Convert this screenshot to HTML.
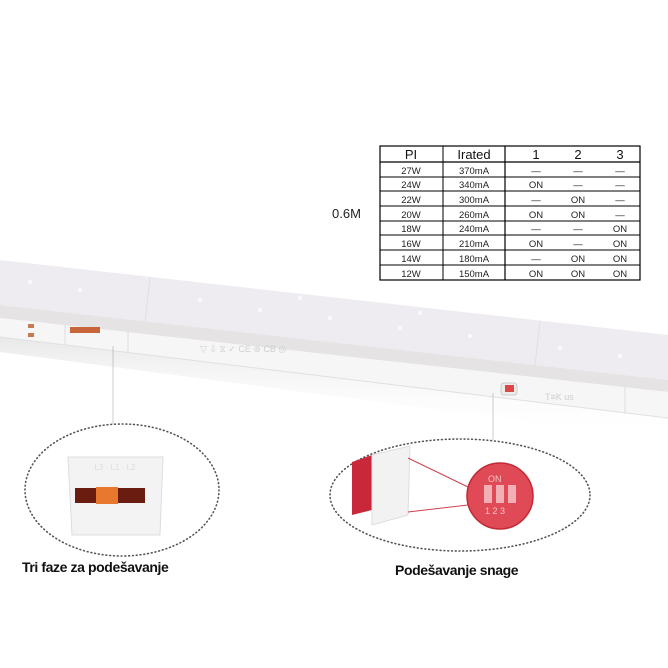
<!DOCTYPE html>
<html><head><meta charset="utf-8"><style>
body{margin:0;background:#fff;}
svg{display:block}
</style></head><body>
<svg width="668" height="668" viewBox="0 0 668 668" xmlns="http://www.w3.org/2000/svg" font-family="Liberation Sans, sans-serif">
<defs>
<linearGradient id="shadow" x1="0" y1="0" x2="0" y2="1"><stop offset="0" stop-color="#e8e8e8"/><stop offset="1" stop-color="#fff" stop-opacity="0"/></linearGradient>
</defs>
<polygon points="0,337 668,418 668,440 0,352" fill="url(#shadow)"/>
<polygon points="0,260 668,335 668,380 0,305" fill="#eeecf0"/>
<line x1="150" y1="277" x2="145" y2="323" stroke="#e0dee4"/>
<line x1="540" y1="321" x2="535" y2="366" stroke="#e0dee4"/>
<g fill="#fafafd">
<circle cx="30" cy="282" r="2"/><circle cx="80" cy="290" r="2"/><circle cx="200" cy="300" r="2"/><circle cx="260" cy="310" r="2"/><circle cx="330" cy="318" r="2"/><circle cx="400" cy="328" r="2"/><circle cx="470" cy="336" r="2"/><circle cx="560" cy="348" r="2"/><circle cx="620" cy="356" r="2"/><circle cx="300" cy="298" r="2"/><circle cx="420" cy="313" r="2"/>
</g>
<polygon points="0,305 668,380 668,392 0,318" fill="#e5e3e3"/>
<polygon points="0,318 668,392 668,418 0,337" fill="#f6f6f6"/>
<line x1="0" y1="337" x2="668" y2="418" stroke="#e0e0e0"/>
<line x1="65" y1="324" x2="65" y2="345" stroke="#ddd"/>
<line x1="128" y1="331" x2="128" y2="352" stroke="#ddd"/>
<line x1="625" y1="387" x2="625" y2="414" stroke="#ddd"/>
<rect x="70" y="327" width="30" height="6" fill="#c9653a"/>
<rect x="28" y="324" width="6" height="4" fill="#c87a50"/><rect x="28" y="333" width="6" height="4" fill="#c87a50"/>
<rect x="501" y="383" width="16" height="12" rx="3" fill="#ececec" stroke="#ccc"/>
<rect x="505" y="385" width="9" height="7" fill="#e04646"/>
<g fill="#cfcfcf" font-size="9"><text x="200" y="352">▽ ⇩ ⧖ ✓ CE ⊚ CB ◎</text><text x="545" y="400">T≡K us</text></g>
<line x1="113" y1="346" x2="113" y2="424" stroke="#aaa" stroke-width="0.6"/>
<line x1="493" y1="393" x2="493" y2="440" stroke="#aaa" stroke-width="0.6"/>
<text x="332" y="218" font-size="13" fill="#222">0.6M</text>
<g stroke="#000" fill="none">
<rect x="380" y="146" width="260" height="134" stroke-width="1.2"/>
<line x1="443" y1="146" x2="443" y2="280"/><line x1="505" y1="146" x2="505" y2="280" stroke-width="1.2"/>
<line x1="380" y1="162" x2="640" y2="162" stroke-width="1.2"/>
<line x1="380" y1="177" x2="640" y2="177"/><line x1="380" y1="191" x2="640" y2="191"/><line x1="380" y1="206" x2="640" y2="206"/><line x1="380" y1="221" x2="640" y2="221"/><line x1="380" y1="235" x2="640" y2="235"/><line x1="380" y1="250" x2="640" y2="250"/><line x1="380" y1="265" x2="640" y2="265"/>
</g>
<g font-size="13" text-anchor="middle" fill="#111"><text x="411" y="159">PI</text><text x="474" y="159">Irated</text><text x="536" y="159">1</text><text x="578" y="159">2</text><text x="620" y="159">3</text></g>
<g font-size="9.5" text-anchor="middle" fill="#222">
<text x="411" y="174">27W</text><text x="474" y="174">370mA</text><text x="536" y="174">—</text><text x="578" y="174">—</text><text x="620" y="174">—</text>
<text x="411" y="188">24W</text><text x="474" y="188">340mA</text><text x="536" y="188">ON</text><text x="578" y="188">—</text><text x="620" y="188">—</text>
<text x="411" y="203">22W</text><text x="474" y="203">300mA</text><text x="536" y="203">—</text><text x="578" y="203">ON</text><text x="620" y="203">—</text>
<text x="411" y="218">20W</text><text x="474" y="218">260mA</text><text x="536" y="218">ON</text><text x="578" y="218">ON</text><text x="620" y="218">—</text>
<text x="411" y="232">18W</text><text x="474" y="232">240mA</text><text x="536" y="232">—</text><text x="578" y="232">—</text><text x="620" y="232">ON</text>
<text x="411" y="247">16W</text><text x="474" y="247">210mA</text><text x="536" y="247">ON</text><text x="578" y="247">—</text><text x="620" y="247">ON</text>
<text x="411" y="262">14W</text><text x="474" y="262">180mA</text><text x="536" y="262">—</text><text x="578" y="262">ON</text><text x="620" y="262">ON</text>
<text x="411" y="277">12W</text><text x="474" y="277">150mA</text><text x="536" y="277">ON</text><text x="578" y="277">ON</text><text x="620" y="277">ON</text>
</g>
<ellipse cx="122" cy="490" rx="97" ry="66" fill="none" stroke="#555" stroke-width="1.6" stroke-dasharray="0.8 3" stroke-linecap="round"/>
<ellipse cx="460" cy="495" rx="130" ry="56" fill="none" stroke="#555" stroke-width="1.6" stroke-dasharray="0.8 3" stroke-linecap="round"/>
<polygon points="68,457 163,457 160,535 72,535" fill="#f3f3f3" stroke="#ddd"/>
<rect x="75" y="488" width="70" height="15" fill="#6a1c10"/>
<rect x="96" y="487" width="22" height="17" fill="#e8782e"/>
<text x="115" y="470" font-size="8" fill="#ddd" text-anchor="middle">L3 · L1 · L2</text>
<polygon points="352,462 372,455 372,510 352,515" fill="#c8283a"/>
<polygon points="372,455 410,446 408,515 372,525" fill="#f2f2f2" stroke="#ddd"/>
<line x1="408" y1="458" x2="468" y2="487" stroke="#d04050"/>
<line x1="408" y1="512" x2="468" y2="505" stroke="#d04050"/>
<circle cx="500" cy="496" r="33" fill="#e04a56" stroke="#c22a38" stroke-width="1.5"/>
<g fill="#f0b0b5"><rect x="484" y="485" width="8" height="18"/><rect x="496" y="485" width="8" height="18"/><rect x="508" y="485" width="8" height="18"/></g>
<g font-size="9" fill="#f5c5c8"><text x="488" y="482">ON</text><text x="485" y="514">1 2 3</text></g>
<text x="22" y="572" font-size="14" font-weight="bold" fill="#111" letter-spacing="-0.4">Tri faze za podešavanje</text>
<text x="395" y="575" font-size="14" fill="#111" font-weight="bold" letter-spacing="-0.4">Podešavanje snage</text>
</svg>
</body></html>
